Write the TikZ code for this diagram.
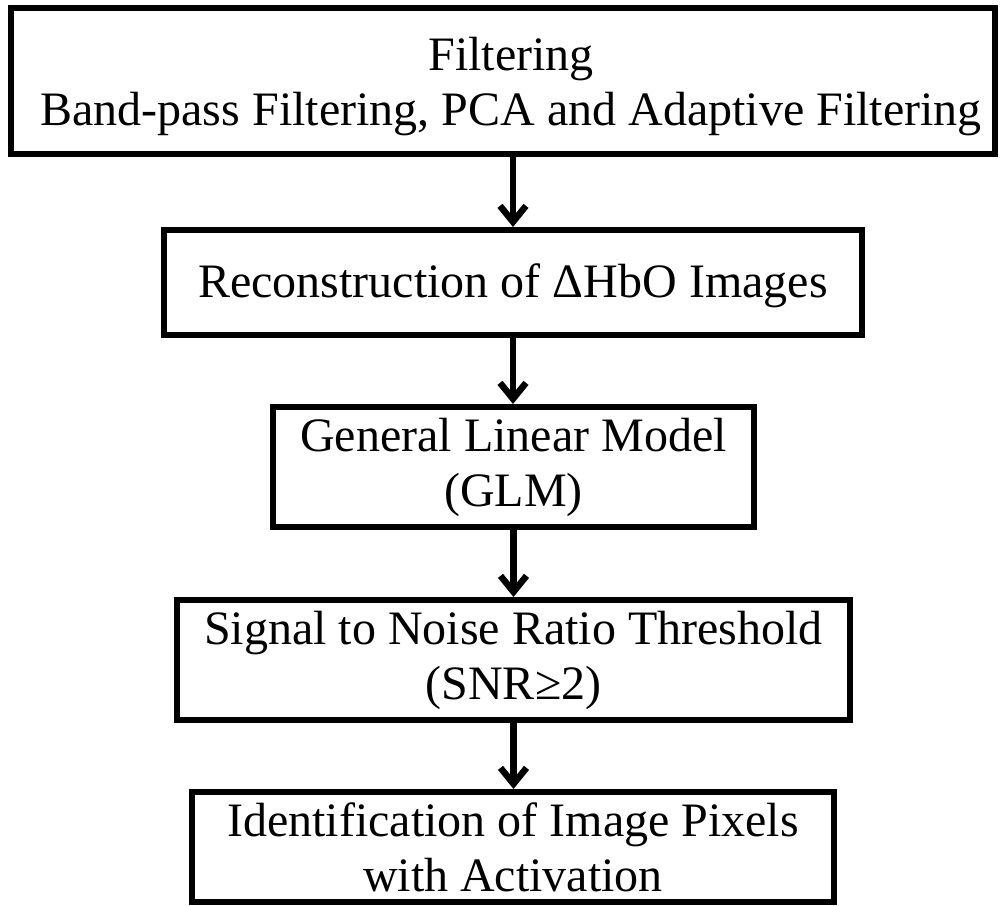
\documentclass[tikz,border=0pt]{standalone}
\usepackage{fontspec}
\setmainfont{Liberation Serif}
\usetikzlibrary{arrows.meta}
\begin{document}
\begin{tikzpicture}[x=1pt,y=1pt,
  stagebox/.style={draw=black, line width=6pt, inner sep=0pt, align=center,
    font=\fontsize{48}{55}\selectfont, text=black},
  flowarrow/.style={line width=6.5pt, -{Straight Barb[length=16pt,width=26pt,line width=6.5pt]}}]
  \useasboundingbox (0,0) rectangle (1001,-905);
  % a taller first-line strut moves the lines a little lower in their box
  \node[stagebox, minimum width=984pt, minimum height=146pt] (filt) at (503,-81)
    {\rule{0pt}{45pt}\hspace*{16pt}Filtering\\\hspace*{16pt}Band-pass Filtering, PCA and Adaptive Filtering};
  \node[stagebox, minimum width=698pt, minimum height=105pt] (recon) at (513,-282.5)
    {\rule{0pt}{41pt}Reconstruction of ΔHbO Images};
  \node[stagebox, minimum width=481pt, minimum height=120pt] (glm) at (513.5,-467)
    {General Linear Model\\(GLM)};
  \node[stagebox, minimum width=673pt, minimum height=120pt] (snr) at (513.5,-660)
    {Signal to Noise Ratio Threshold\\(SNR≥2)};
  \node[stagebox, minimum width=642pt, minimum height=110pt] (ident) at (513,-847)
    {Identification of Image Pixels\\with Activation};
  \draw[flowarrow] (filt.south -| recon.north) -- (recon.north);
  \draw[flowarrow] (recon.south) -- (glm.north -| recon.south);
  \draw[flowarrow] (glm.south) -- (snr.north -| glm.south);
  \draw[flowarrow] (snr.south) -- (ident.north -| snr.south);
\end{tikzpicture}
\end{document}
